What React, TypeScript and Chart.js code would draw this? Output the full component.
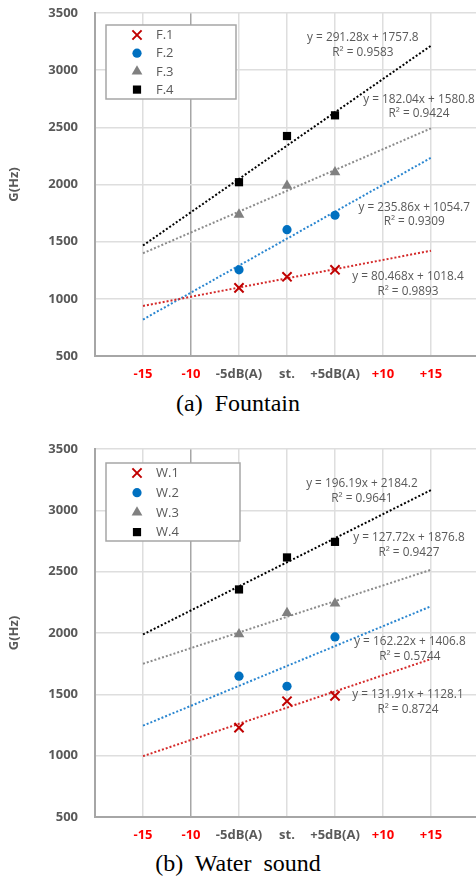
import React, { useEffect, useRef } from 'react';
import { Chart, registerables } from 'chart.js';
Chart.register(...registerables);

// ---------- data ----------
const xTickValues = [-2, -1, 0, 1, 2, 3, 4, 5, 6];
const xTickLabels = ['', '-15', '-10', '-5dB(A)', 'st.', '+5dB(A)', '+10', '+15', ''];
const xTickRed = [false, true, true, false, false, false, true, true, false];
const pointX = [1, 2, 3];
const trendRange = [-1, 5];
const yTicks = [500, 1000, 1500, 2000, 2500, 3000, 3500];

const fountainNames = ['F.1', 'F.2', 'F.3', 'F.4'];
const fountainF1 = [1096, 1193, 1254];
const fountainF2 = [1254, 1605, 1731];
const fountainF3 = [1737, 1990, 2108];
const fountainF4 = [2020, 2424, 2605];
const fountainSlope = [80.468, 235.86, 182.04, 291.28];
const fountainIntercept = [1018.4, 1054.7, 1580.8, 1757.8];
const fountainR2 = ['0.9893', '0.9309', '0.9424', '0.9583'];

const waterNames = ['W.1', 'W.2', 'W.3', 'W.4'];
const waterW1 = [1229, 1444, 1487];
const waterW2 = [1648, 1566, 1968];
const waterW3 = [1990, 2164, 2241];
const waterW4 = [2355, 2616, 2743];
const waterSlope = [131.91, 162.22, 127.72, 196.19];
const waterIntercept = [1128.1, 1406.8, 1876.8, 2184.2];
const waterR2 = ['0.8724', '0.5744', '0.9427', '0.9641'];

// ---------- layout / styles ----------
const fountainLabelPos = [
  { x: 4.52, y: 1193 },
  { x: 4.65, y: 1798 },
  { x: 4.75, y: 2746 },
  { x: 3.58, y: 3281 },
];
const waterLabelPos = [
  { x: 4.52, y: 1495 },
  { x: 4.56, y: 1927 },
  { x: 4.54, y: 2776 },
  { x: 3.56, y: 3216 },
];

const markerColors = ['#c00000', '#0070c0', '#808080', '#000000'];
const trendColors = ['#d42a2a', '#2a86d0', '#8c8c8c', '#000000'];
const markerStyles = ['crossRot', 'circle', 'triangle', 'rect'];
const markerRadius = [6.5, 4.6, 6.2, 5.8];
const GRAY = '#595959';
const FONT = '"Open Sans", Lato, sans-serif';

function drawMarker(ctx: CanvasRenderingContext2D, style: string, x: number, y: number, r: number, color: string) {
  ctx.save();
  ctx.fillStyle = color;
  ctx.strokeStyle = color;
  ctx.lineWidth = 2;
  ctx.beginPath();
  if (style === 'crossRot') {
    const o = r * Math.SQRT1_2;
    ctx.moveTo(x - o, y - o); ctx.lineTo(x + o, y + o);
    ctx.moveTo(x - o, y + o); ctx.lineTo(x + o, y - o);
    ctx.stroke();
  } else if (style === 'circle') {
    ctx.arc(x, y, r, 0, Math.PI * 2);
    ctx.fill();
  } else if (style === 'triangle') {
    ctx.moveTo(x, y - r);
    ctx.lineTo(x + r * 0.866, y + r * 0.5);
    ctx.lineTo(x - r * 0.866, y + r * 0.5);
    ctx.closePath();
    ctx.fill();
  } else {
    const s = r * Math.SQRT1_2;
    ctx.rect(x - s, y - s, 2 * s, 2 * s);
    ctx.fill();
  }
  ctx.restore();
}

type PanelProps = {
  names: string[];
  series: number[][];
  slopes: number[];
  intercepts: number[];
  r2: string[];
  labelPos: { x: number; y: number }[];
  height: number;
  plotTop: number;
  xAxisHeight: number;
  legendBox: { dx: number; dy: number; w: number; h: number; row: number };
};

function zeroPad(s: any) {
  s.paddingTop = 0;
  s.paddingBottom = 0;
  s.paddingLeft = 0;
  s.paddingRight = 0;
}

function Panel(p: PanelProps) {
  const ref = useRef<HTMLCanvasElement | null>(null);
  useEffect(() => {
    if (!ref.current) return;
    const datasets: any[] = [];
    p.series.forEach((vals, i) => {
      datasets.push({
        label: p.names[i] + ' trend',
        data: trendRange.map((x) => ({ x, y: p.slopes[i] * x + p.intercepts[i] })),
        showLine: true,
        borderColor: trendColors[i],
        borderWidth: 2,
        borderDash: [2, 2],
        pointRadius: 0,
        fill: false,
        order: 2,
      });
    });
    p.series.forEach((vals, i) => {
      datasets.push({
        label: p.names[i],
        data: vals.map((y, k) => ({ x: pointX[k], y })),
        showLine: false,
        pointStyle: markerStyles[i],
        pointRadius: markerRadius[i],
        pointHoverRadius: markerRadius[i],
        pointBackgroundColor: markerColors[i],
        pointBorderColor: markerColors[i],
        pointBorderWidth: i === 0 ? 2 : 0,
        order: 1,
      });
    });

    const overlay = {
      id: 'overlay',
      afterDraw(chart: any) {
        const ctx: CanvasRenderingContext2D = chart.ctx;
        const xs = chart.scales.x;
        const ys = chart.scales.y;
        const ca = chart.chartArea;
        ctx.save();
        ctx.fillStyle = GRAY;
        ctx.font = `11.8px ${FONT}`;
        ctx.textAlign = 'center';
        ctx.textBaseline = 'middle';
        p.labelPos.forEach((lp, i) => {
          const px = xs.getPixelForValue(lp.x);
          const py = ys.getPixelForValue(lp.y);
          ctx.fillText(`y = ${p.slopes[i]}x + ${p.intercepts[i]}`, px, py);
          ctx.fillText(`R\u00B2 = ${p.r2[i]}`, px, py + 14.5);
        });
        ctx.restore();
        const lb = p.legendBox;
        const bx = ca.left + lb.dx;
        const by = ca.top + lb.dy;
        ctx.save();
        ctx.fillStyle = '#ffffff';
        ctx.fillRect(bx, by, lb.w, lb.h);
        ctx.strokeStyle = '#a6a6a6';
        ctx.lineWidth = 1.5;
        ctx.strokeRect(bx, by, lb.w, lb.h);
        ctx.font = `13px ${FONT}`;
        ctx.textAlign = 'left';
        ctx.textBaseline = 'middle';
        p.names.forEach((n, i) => {
          const ry = by + 10 + i * lb.row;
          drawMarker(ctx, markerStyles[i], bx + 31, ry, i === 1 ? 4.6 : markerRadius[i], markerColors[i]);
          ctx.fillStyle = GRAY;
          ctx.fillText(n, bx + 50, ry + 0.5);
        });
        ctx.restore();
      },
    };

    const chart = new Chart(ref.current, {
      type: 'scatter',
      data: { datasets },
      plugins: [overlay],
      options: {
        responsive: false,
        animation: false,
        layout: { autoPadding: false, padding: { top: p.plotTop, right: 5, left: 0, bottom: 0 } },
        plugins: { legend: { display: false }, tooltip: { enabled: false } },
        scales: {
          x: {
            type: 'linear',
            min: -2,
            max: 6,
            afterBuildTicks: (s: any) => {
              s.ticks = xTickValues.map((v) => ({ value: v }));
            },
            afterFit: (s: any) => {
              s.height = p.xAxisHeight;
              zeroPad(s);
            },
            ticks: {
              autoSkip: false,
              maxRotation: 0,
              padding: 10,
              font: { family: FONT, weight: 'bold', size: 13 },
              color: (c: any) => {
                const idx = xTickValues.indexOf(c.tick ? c.tick.value : NaN);
                return idx >= 0 && xTickRed[idx] ? '#ff0000' : GRAY;
              },
              callback: (v: any) => {
                const idx = xTickValues.indexOf(Number(v));
                return idx >= 0 ? xTickLabels[idx] : '';
              },
            },
            grid: {
              drawTicks: false,
              lineWidth: 1.5,
              color: (c: any) => (c.tick && c.tick.value === 0 ? '#a6a6a6' : '#dedede'),
            },
            border: { color: '#a6a6a6', width: 2 },
          },
          y: {
            type: 'linear',
            min: 500,
            max: 3500,
            afterBuildTicks: (s: any) => {
              s.ticks = yTicks.map((v) => ({ value: v }));
            },
            afterFit: (s: any) => {
              s.width = 95;
              zeroPad(s);
            },
            ticks: {
              padding: 17,
              font: { family: FONT, weight: 'bold', size: 13 },
              color: GRAY,
              callback: (v: any) => String(v),
            },
            title: {
              display: true,
              text: 'G(Hz)',
              color: GRAY,
              font: { family: FONT, weight: 'bold', size: 13 },
              padding: { top: 6, bottom: 0 },
            },
            grid: { drawTicks: false, lineWidth: 1.5, color: '#dedede' },
            border: { color: '#a6a6a6', width: 2 },
          },
        },
      } as any,
    });
    return () => chart.destroy();
  }, []);
  return <canvas ref={ref} width={484} height={p.height} style={{ display: 'block' }} />;
}

const captionStyle: React.CSSProperties = {
  position: 'absolute',
  left: 0,
  width: 476,
  textAlign: 'center',
  fontFamily: '"Liberation Serif", "Times New Roman", serif',
  fontSize: 24,
  whiteSpace: 'pre',
  color: '#000',
  lineHeight: '26px',
};

export default function App() {
  useEffect(() => {
    document.body.style.margin = '0';
  }, []);
  return (
    <div style={{ position: 'relative', width: 476, height: 877, overflow: 'hidden', background: '#fff' }}>
      <div style={{ position: 'absolute', left: 0, top: 0, width: 476, overflow: 'hidden' }}>
        <Panel
          names={fountainNames}
          series={[fountainF1, fountainF2, fountainF3, fountainF4]}
          slopes={fountainSlope}
          intercepts={fountainIntercept}
          r2={fountainR2}
          labelPos={fountainLabelPos}
          height={385}
          plotTop={13}
          xAxisHeight={29}
          legendBox={{ dx: 11, dy: 12, w: 130, h: 74, row: 18.2 }}
        />
      </div>
      <div style={{ ...captionStyle, top: 390 }}>{'(a)  Fountain'}</div>
      <div style={{ position: 'absolute', left: 0, top: 430, width: 476, overflow: 'hidden' }}>
        <Panel
          names={waterNames}
          series={[waterW1, waterW2, waterW3, waterW4]}
          slopes={waterSlope}
          intercepts={waterIntercept}
          r2={waterR2}
          labelPos={waterLabelPos}
          height={420}
          plotTop={19}
          xAxisHeight={33}
          legendBox={{ dx: 11, dy: 14, w: 134, h: 78, row: 19.7 }}
        />
      </div>
      <div style={{ ...captionStyle, top: 850 }}>{'(b)  Water  sound'}</div>
    </div>
  );
}
